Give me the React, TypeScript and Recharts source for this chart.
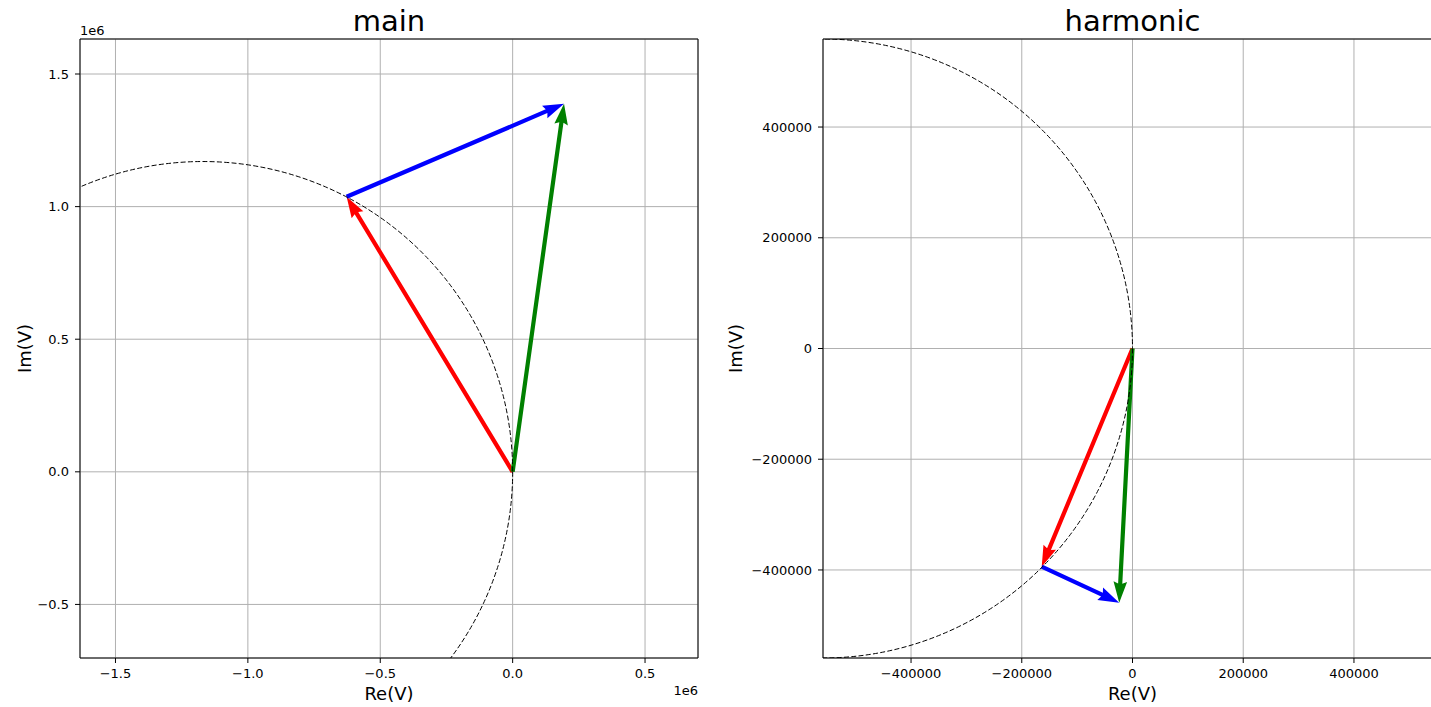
import { ScatterChart, Scatter, XAxis, YAxis, CartesianGrid, Label } from 'recharts';

type Pt = { x: number; y: number };

const FONT = 'DejaVu Sans, sans-serif';

// "main" panel
const mainXDomain = [-1634000, 700000];
const mainYDomain = [-702000, 1632000];
const mainXTicks = [-1500000, -1000000, -500000, 0, 500000];
const mainYTicks = [-500000, 0, 500000, 1000000, 1500000];
const mainRed: Pt[] = [{ x: 0, y: 0 }, { x: -627000, y: 1037000 }];
const mainBlue: Pt[] = [{ x: -627000, y: 1037000 }, { x: 194000, y: 1388000 }];
const mainGreen: Pt[] = [{ x: 0, y: 0 }, { x: 194000, y: 1388000 }];
// center, a point on the circle to the right, a point on top
const mainCircle: Pt[] = [{ x: -1170000, y: 0 }, { x: 0, y: 0 }, { x: -1170000, y: 1170000 }];

// "harmonic" panel
const harmXDomain = [-559000, 559000];
const harmYDomain = [-559000, 559000];
const harmXTicks = [-400000, -200000, 0, 200000, 400000];
const harmYTicks = [-400000, -200000, 0, 200000, 400000];
const harmRed: Pt[] = [{ x: 0, y: 0 }, { x: -164000, y: -394000 }];
const harmBlue: Pt[] = [{ x: -164000, y: -394000 }, { x: -24000, y: -459000 }];
const harmGreen: Pt[] = [{ x: 0, y: 0 }, { x: -24000, y: -459000 }];
const harmCircle: Pt[] = [{ x: -559000, y: 0 }, { x: 0, y: 0 }, { x: -559000, y: 559000 }];

const minus = (s: string) => s.replace('-', '\u2212');
const fmtMillions = (v: number) => minus((v / 1e6).toFixed(1));
const fmtPlain = (v: number) => minus(String(v));

// quiver-like arrow polygon in pixel space
function arrowPoints(x0: number, y0: number, x1: number, y1: number) {
  const dx = x1 - x0;
  const dy = y1 - y0;
  const len = Math.hypot(dx, dy) || 1;
  const ux = dx / len;
  const uy = dy / len;
  const nx = -uy;
  const ny = ux;
  const w = 2.1, hw = 6.8, hl = 21, ha = 19;
  const pts = [
    [x0 + nx * w, y0 + ny * w],
    [x1 - ux * ha + nx * w, y1 - uy * ha + ny * w],
    [x1 - ux * hl + nx * hw, y1 - uy * hl + ny * hw],
    [x1, y1],
    [x1 - ux * hl - nx * hw, y1 - uy * hl - ny * hw],
    [x1 - ux * ha - nx * w, y1 - uy * ha - ny * w],
    [x0 - nx * w, y0 - ny * w],
  ];
  return pts.map((p) => `${p[0]},${p[1]}`).join(' ');
}

const arrowLine = (color: string) => (props: any) => {
  const pts = props.points;
  if (!pts || pts.length < 2) return <g />;
  return <polygon points={arrowPoints(pts[0].x, pts[0].y, pts[1].x, pts[1].y)} fill={color} stroke="none" />;
};

const circleLine = (props: any) => {
  const pts = props.points;
  if (!pts || pts.length < 3) return <g />;
  const [c, a, b] = pts;
  return (
    <ellipse
      cx={c.x}
      cy={c.y}
      rx={Math.abs(a.x - c.x)}
      ry={Math.abs(b.y - c.y)}
      fill="none"
      stroke="#000"
      strokeWidth={1}
      strokeDasharray="5 2.3"
    />
  );
};

const noDot = () => <g />;

const labelAt = (
  value: string,
  ax: number,
  dx: number,
  dy: number,
  size: number,
  anchor: 'start' | 'middle' | 'end',
  rotate = false,
) => (props: any) => {
  const vb = props.viewBox || { x: 0, y: 0, width: 0, height: 0 };
  const x = vb.x + vb.width * ax + dx;
  const y = rotate ? vb.y + vb.height / 2 : vb.y + dy;
  return (
    <text
      x={x}
      y={y}
      textAnchor={anchor}
      fontSize={size}
      fontFamily={FONT}
      fill="#000"
      transform={rotate ? `rotate(-90 ${x} ${y})` : undefined}
    >
      {value}
    </text>
  );
};

interface PanelProps {
  title: string;
  left: number;
  width: number;
  yAxisWidth: number;
  marginRight: number;
  xDomain: number[];
  yDomain: number[];
  xTicks: number[];
  yTicks: number[];
  fmt: (v: number) => string;
  red: Pt[];
  blue: Pt[];
  green: Pt[];
  circle: Pt[];
  imX: number;
  offsetText: boolean;
}

function Panel(p: PanelProps) {
  const tickStyle = { fontSize: 13, fill: '#000', fontFamily: FONT };
  return (
    <div style={{ position: 'absolute', left: p.left, top: 0 }}>
      <ScatterChart
        width={p.width}
        height={707}
        margin={{ top: 38, right: p.marginRight - 1, bottom: 0, left: 0 }}
      >
        <CartesianGrid stroke="#b0b0b0" strokeWidth={1} />
        <XAxis
          type="number"
          dataKey="x"
          domain={p.xDomain}
          ticks={p.xTicks}
          interval={0}
          allowDataOverflow
          height={49}
          tickSize={5}
          tickMargin={6}
          tick={tickStyle}
          tickFormatter={p.fmt}
          stroke="#000"
          tickLine={{ stroke: '#000' }}
          axisLine={{ stroke: '#000' }}
        >
          <Label content={labelAt('Re(V)', 0.5, 0, 42, 18, 'middle')} />
          {p.offsetText && <Label content={labelAt('1e6', 1, 0, 37, 13, 'end')} />}
        </XAxis>
        <XAxis
          xAxisId="top"
          orientation="top"
          type="number"
          domain={p.xDomain}
          allowDataOverflow
          height={1}
          tick={false}
          tickLine={false}
          stroke="#000"
          axisLine={{ stroke: '#000' }}
        >
          <Label content={labelAt(p.title, 0.5, 0, -7, 29, 'middle')} />
          {p.offsetText && <Label content={labelAt('1e6', 0, 0, -3, 13, 'start')} />}
        </XAxis>
        <YAxis
          type="number"
          dataKey="y"
          domain={p.yDomain}
          ticks={p.yTicks}
          interval={0}
          allowDataOverflow
          width={p.yAxisWidth}
          tickSize={5}
          tickMargin={6}
          tick={tickStyle}
          tickFormatter={p.fmt}
          stroke="#000"
          tickLine={{ stroke: '#000' }}
          axisLine={{ stroke: '#000' }}
        >
          <Label content={labelAt('Im(V)', 0, p.imX, 0, 18, 'middle', true)} />
        </YAxis>
        <YAxis
          yAxisId="right"
          orientation="right"
          type="number"
          domain={p.yDomain}
          allowDataOverflow
          width={1}
          tick={false}
          tickLine={false}
          stroke="#000"
          axisLine={{ stroke: '#000' }}
        />
        <Scatter data={p.red} fill="#ff0000" line={arrowLine('#ff0000')} shape={noDot} legendType="none" isAnimationActive={false} />
        <Scatter data={p.blue} fill="#0000ff" line={arrowLine('#0000ff')} shape={noDot} legendType="none" isAnimationActive={false} />
        <Scatter data={p.green} fill="#008000" line={arrowLine('#008000')} shape={noDot} legendType="none" isAnimationActive={false} />
        <Scatter data={p.circle} fill="#000" line={circleLine} shape={noDot} legendType="none" isAnimationActive={false} />
      </ScatterChart>
    </div>
  );
}

export default function App() {
  return (
    <div
      style={{
        position: 'absolute',
        left: 0,
        top: 0,
        width: 1431,
        height: 707,
        overflow: 'hidden',
        background: '#fff',
      }}
    >
      <Panel
        title="main"
        left={0}
        width={720}
        yAxisWidth={80}
        marginRight={22}
        xDomain={mainXDomain}
        yDomain={mainYDomain}
        xTicks={mainXTicks}
        yTicks={mainYTicks}
        fmt={fmtMillions}
        red={mainRed}
        blue={mainBlue}
        green={mainGreen}
        circle={mainCircle}
        imX={31}
        offsetText
      />
      <Panel
        title="harmonic"
        left={720}
        width={740}
        yAxisWidth={103}
        marginRight={18}
        xDomain={harmXDomain}
        yDomain={harmYDomain}
        xTicks={harmXTicks}
        yTicks={harmYTicks}
        fmt={fmtPlain}
        red={harmRed}
        blue={harmBlue}
        green={harmGreen}
        circle={harmCircle}
        imX={22}
        offsetText={false}
      />
    </div>
  );
}
